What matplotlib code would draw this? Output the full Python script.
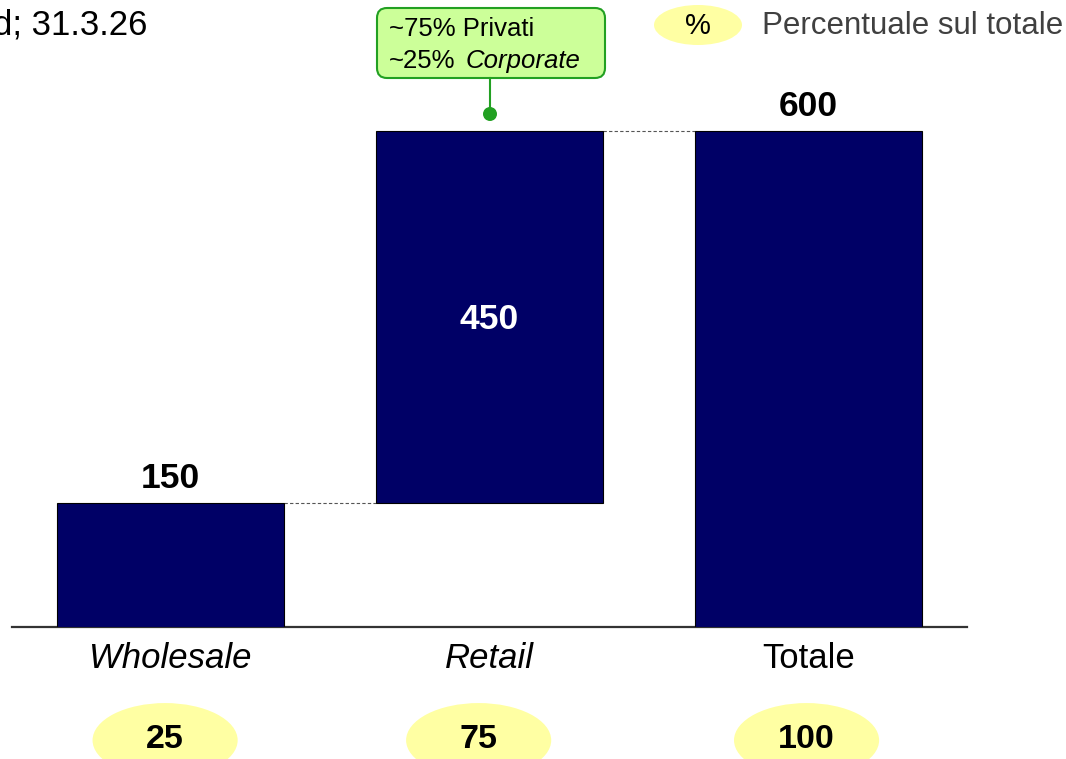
import matplotlib
matplotlib.use("Agg")
import matplotlib.pyplot as plt
from matplotlib.patches import Ellipse, FancyBboxPatch, Circle
from matplotlib.transforms import Affine2D

# ---- data ----
categories = ["Wholesale", "Retail", "Totale"]
values = [150, 450, 600]
percents = [25, 75, 100]
is_total = [False, False, True]
italic_cat = [True, True, False]

# ---- style ----
BAR = "#000066"
YELLOW = "#FFFFA3"
GREEN_FILL = "#CCFF99"
GREEN = "#22A022"
FONT = "Liberation Sans"
plt.rcParams["font.family"] = [FONT, "DejaVu Sans"]

W, H = 1066, 759
fig = plt.figure(figsize=(W / 100, H / 100), dpi=100)
# pixel transform (top-left origin)
px = Affine2D().scale(1 / 100, -1 / 100).translate(0, H / 100) + fig.dpi_scale_trans

ax = fig.add_axes([12 / W, 1 - 627 / H, 955 / W, 627 / H])
ax.set_xlim(-0.497, 2.497)
ax.set_ylim(0, 758.5)
for s in ["top", "right", "left"]:
    ax.spines[s].set_visible(False)
ax.spines["bottom"].set_color("#333333")
ax.spines["bottom"].set_linewidth(1.6)
ax.set_xticks([])
ax.set_yticks([])
ax.patch.set_alpha(0)

# waterfall bottoms
bottoms = []
running = 0
for v, t in zip(values, is_total):
    if t:
        bottoms.append(0)
    else:
        bottoms.append(running)
        running += v

bw = 0.712
xs = list(range(len(categories)))
ax.bar(xs, values, bottom=bottoms, width=bw, color=BAR, edgecolor="black",
       linewidth=0.8, zorder=3)

# connectors
tops = [b + v for b, v in zip(bottoms, values)]
for i in range(len(xs) - 1):
    ax.plot([xs[i] + bw / 2, xs[i + 1] - bw / 2], [tops[i], tops[i]],
            ls=(0, (3, 2)), color="#555555", lw=0.8, zorder=2)

# value labels
for i, (b, v, t) in enumerate(zip(bottoms, values, is_total)):
    if b > 0:
        ax.text(xs[i], b + v / 2 - 3, f"{v}", ha="center", va="center", color="white",
                fontsize=25.5, fontweight="bold", zorder=4)
    else:
        ax.text(xs[i], b + v + 30, f"{v}", ha="center", va="center", color="black",
                fontsize=25.5, fontweight="bold", zorder=4)

# category labels
for i, c in enumerate(categories):
    ax.text(xs[i], -38, c, ha="center", va="center", fontsize=25,
            style="italic" if italic_cat[i] else "normal", clip_on=False)

# percent ellipses
ell_shift = [-0.017, -0.034, -0.006]
for i, p in enumerate(percents):
    cx = xs[i] + ell_shift[i]
    e = Ellipse((cx, -137), width=0.455, height=90, facecolor=YELLOW,
                edgecolor="none", clip_on=False, zorder=1)
    ax.add_patch(e)
    ax.text(cx, -136, f"{p}", ha="center", va="center", fontsize=24.5,
            fontweight="bold", clip_on=False, zorder=2)

# top-left (cut) source text
fig.text(147, 25, "d; 31.3.26", transform=px, ha="right", va="center", fontsize=25)

# legend
fig.patches.append(Ellipse((698, 25), 88, 40, transform=px, facecolor=YELLOW,
                           edgecolor="none"))
fig.text(698, 26, "%", transform=px, ha="center", va="center", fontsize=21)
fig.text(762, 26, "Percentuale sul totale", transform=px, ha="left", va="center",
         fontsize=22.5, color="#404040")

# annotation box
box = FancyBboxPatch((377, 8), 228, 70, boxstyle="round,pad=0,rounding_size=10",
                     transform=px, facecolor=GREEN_FILL, edgecolor=GREEN, linewidth=1.5)
fig.patches.append(box)
fig.text(389, 29, "~75% Privati", transform=px, ha="left", va="center", fontsize=18.5)
fig.text(389, 61, "~25%", transform=px, ha="left", va="center", fontsize=18.5)
fig.text(466, 61, "Corporate", transform=px, ha="left", va="center", fontsize=18.5,
         style="italic")
fig.lines.append(plt.Line2D([490, 490], [78, 112], transform=px, color=GREEN, lw=1.5))
fig.patches.append(Circle((490, 114), 7, transform=px, facecolor=GREEN, edgecolor="none"))

fig.savefig("out.png", dpi=100)
